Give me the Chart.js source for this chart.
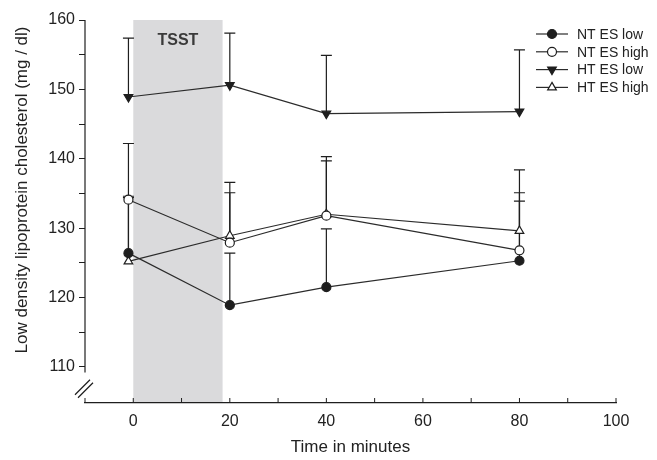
<!DOCTYPE html>
<html>
<head>
<meta charset="utf-8">
<script src="https://cdn.jsdelivr.net/npm/chart.js@4.4.1/dist/chart.umd.min.js"></script>
<style>
  html, body { margin: 0; padding: 0; background: #fff; }
  #myChart { display: block; }
</style>
</head>
<body>
<canvas id="myChart" width="657" height="460"></canvas>
<script>
const FONT = "'Liberation Sans', Arial, Helvetica, sans-serif";

// sample times (first sample drawn just left of 0)
const times = [-1, 20, 40, 80];
const labels = ["NT ES low", "NT ES high", "HT ES low", "HT ES high"];

// means
const ntLow = [126.4, 118.9, 121.5, 125.3];
const ntHigh = [134.1, 127.9, 131.8, 126.8];
const htLow = [148.9, 150.6, 146.5, 146.8];
const htHigh = [125.2, 128.9, 132.0, 129.6];

// upper end of the error bars
const ntLowUp = [134.6, 126.4, 129.9, 133.9];
const ntHighUp = [142.2, 135.1, 139.7, 135.1];
const htLowUp = [157.4, 158.1, 154.9, 155.7];
const htHighUp = [134.4, 136.6, 140.3, 138.4];

// stress test window
const tsstStart = 0;
const tsstEnd = 18.5;
const tsstLabel = "TSST";

const yTitle = "Low density lipoprotein cholesterol (mg / dl)";
const xTitle = "Time in minutes";

const ctx = document.getElementById("myChart");
const INK = "#1e1e1e";

const toPoints = (vals) => times.map((t, i) => ({ x: t, y: vals[i] }));

const makeSet = (label, vals, up, style, rot, filled) => ({
  label: label,
  data: toPoints(vals),
  upper: up,
  borderColor: "#2b2b2b",
  borderWidth: 1.2,
  pointStyle: style,
  rotation: rot,
  pointRadius: style === "triangle" ? 5 : 4.5,
  pointHoverRadius: 5,
  pointBorderWidth: 1.2,
  pointBorderColor: INK,
  pointBackgroundColor: filled ? INK : "#fff",
  tension: 0,
});

const datasets = [
  makeSet(labels[0], ntLow, ntLowUp, "circle", 0, true),
  makeSet(labels[1], ntHigh, ntHighUp, "circle", 0, false),
  makeSet(labels[2], htLow, htLowUp, "triangle", 180, true),
  makeSet(labels[3], htHigh, htHighUp, "triangle", 0, false),
];

// grey band + label
const tsstBand = {
  id: "tsstBand",
  beforeDraw(chart) {
    const { ctx, scales: { x, y }, chartArea } = chart;
    const x0 = x.getPixelForValue(tsstStart);
    const x1 = x.getPixelForValue(tsstEnd);
    const top = y.getPixelForValue(160);
    ctx.save();
    ctx.fillStyle = "#dadadc";
    ctx.fillRect(x0, top, x1 - x0, chartArea.bottom - top - 1);
    ctx.fillStyle = "#3a3a3a";
    ctx.font = "bold 16px " + FONT;
    ctx.textAlign = "center";
    ctx.textBaseline = "middle";
    ctx.fillText(tsstLabel, (x0 + x1) / 2, top + 21);
    ctx.restore();
  },
};

// one-sided error bars
const errorBars = {
  id: "errorBars",
  beforeDatasetsDraw(chart) {
    const { ctx, scales: { x, y } } = chart;
    ctx.save();
    ctx.strokeStyle = INK;
    ctx.lineWidth = 1.2;
    chart.data.datasets.forEach((ds) => {
      ds.data.forEach((p, i) => {
        const up = ds.upper[i];
        if (up == null) return;
        const px = x.getPixelForValue(p.x);
        const py = y.getPixelForValue(p.y);
        const pu = y.getPixelForValue(up);
        ctx.beginPath();
        ctx.moveTo(px, py);
        ctx.lineTo(px, pu);
        ctx.moveTo(px - 5.5, pu);
        ctx.lineTo(px + 5.5, pu);
        ctx.stroke();
      });
    });
    ctx.restore();
  },
};

// axis line with break, x ticks pointing in, legend, y title
const decorations = {
  id: "decorations",
  afterDraw(chart) {
    const { ctx, scales: { x, y }, chartArea } = chart;
    ctx.save();
    ctx.strokeStyle = INK;
    ctx.lineWidth = 1.2;

    // y axis line, stops at the break
    const ax = chartArea.left;
    ctx.beginPath();
    ctx.moveTo(ax, y.getPixelForValue(160));
    ctx.lineTo(ax, y.getPixelForValue(109.2));
    ctx.stroke();

    // break marks
    const by = y.getPixelForValue(107);
    ctx.beginPath();
    ctx.moveTo(ax - 10, by + 7);
    ctx.lineTo(ax + 5, by - 8);
    ctx.moveTo(ax - 7, by + 10);
    ctx.lineTo(ax + 8, by - 5);
    ctx.stroke();

    // x ticks (inward)
    ctx.lineWidth = 1;
    x.ticks.forEach((t) => {
      const px = x.getPixelForValue(t.value);
      ctx.beginPath();
      ctx.moveTo(px, chartArea.bottom);
      ctx.lineTo(px, chartArea.bottom - 5);
      ctx.stroke();
    });

    // legend
    ctx.font = "14px " + FONT;
    ctx.textBaseline = "middle";
    ctx.textAlign = "left";
    chart.data.datasets.forEach((ds, i) => {
      const ly = 34 + i * 17.8;
      ctx.strokeStyle = "#2b2b2b";
      ctx.lineWidth = 1.2;
      ctx.beginPath();
      ctx.moveTo(536, ly);
      ctx.lineTo(568, ly);
      ctx.stroke();
      ctx.strokeStyle = INK;
      ctx.fillStyle = ds.pointBackgroundColor;
      Chart.helpers.drawPoint(ctx, {
        pointStyle: ds.pointStyle,
        rotation: ds.rotation,
        radius: ds.pointRadius,
        borderWidth: 1.2,
      }, 552, ly);
      ctx.fillStyle = "#222";
      ctx.fillText(ds.label, 577, ly + 1);
    });

    // y title
    ctx.translate(22, 190);
    ctx.rotate(-Math.PI / 2);
    ctx.font = "17px " + FONT;
    ctx.fillStyle = "#222";
    ctx.textAlign = "center";
    ctx.fillText(yTitle, 0, 0);
    ctx.restore();
  },
};

const myChart = new Chart(ctx, {
  type: "line",
  data: { datasets: datasets },
  plugins: [tsstBand, errorBars, decorations],
  options: {
    responsive: false,
    animation: false,
    events: [],
    layout: { padding: { left: 0, right: 41, top: 20, bottom: 0 } },
    plugins: { legend: { display: false }, tooltip: { enabled: false } },
    scales: {
      x: {
        type: "linear",
        min: -10,
        max: 100,
        afterFit: (scale) => { scale.height = 57; },
        ticks: {
          stepSize: 10,
          autoSkip: false,
          maxRotation: 0,
          padding: 9,
          color: "#222",
          font: { family: FONT, size: 16 },
          callback: (v) => (v >= 0 && v % 20 === 0 ? v : ""),
        },
        grid: { display: true, drawOnChartArea: false, drawTicks: false },
        border: { display: true, color: INK, width: 1.2 },
        title: {
          display: true,
          text: xTitle,
          color: "#222",
          font: { family: FONT, size: 17 },
          padding: { top: 0, bottom: 2 },
        },
      },
      y: {
        min: 104.8,
        max: 160,
        afterFit: (scale) => { scale.width = 85; },
        afterBuildTicks: (scale) => {
          scale.ticks = scale.ticks.filter((t) => t.value >= 110 && t.value % 5 === 0);
        },
        ticks: {
          stepSize: 5,
          autoSkip: false,
          padding: 4,
          color: "#222",
          font: { family: FONT, size: 16 },
          callback: (v) => (v % 10 === 0 ? v : ""),
        },
        grid: { display: true, drawOnChartArea: false, drawTicks: true, tickLength: 6, color: INK, lineWidth: 1 },
        border: { display: false },
      },
    },
  },
});
</script>
</body>
</html>
